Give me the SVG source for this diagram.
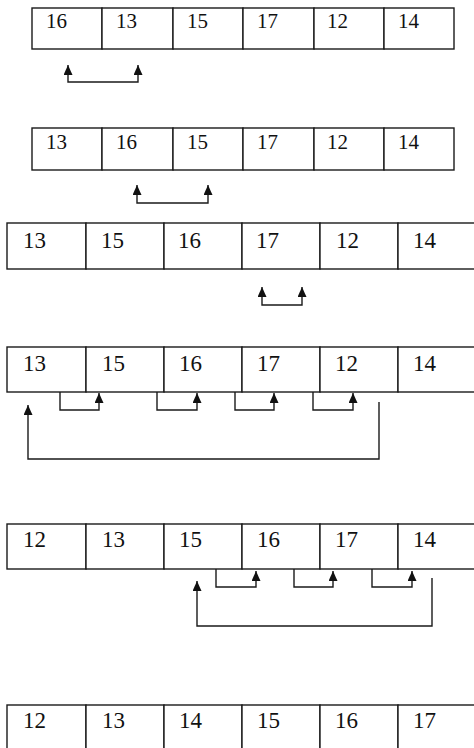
<svg xmlns="http://www.w3.org/2000/svg" width="474" height="748" viewBox="0 0 474 748">
<style>
.c{fill:#fff;stroke:#1a1a1a;stroke-width:1.4}
.t{font-family:"Liberation Serif","Times New Roman",serif;fill:#111}
.s{font-size:21px}
.b{font-size:23px}
.k{fill:none;stroke:#1a1a1a;stroke-width:1.4}
.a{marker-end:url(#ah)}
.d{marker-start:url(#ah);marker-end:url(#ah)}
</style>
<defs>
<marker id="ah" markerUnits="userSpaceOnUse" markerWidth="11" markerHeight="9" refX="10" refY="4.5" orient="auto-start-reverse">
<path d="M0,0 L10,4.5 L0,9 z" fill="#111"/>
</marker>
</defs>
<rect width="474" height="748" fill="#fff"/>
<g id="row1">
<g id="r1c1"><rect class="c" x="32" y="8" width="70" height="41"/><text class="t s" x="46" y="28">16</text></g>
<g id="r1c2"><rect class="c" x="102" y="8" width="71" height="41"/><text class="t s" x="116" y="28">13</text></g>
<g id="r1c3"><rect class="c" x="173" y="8" width="70" height="41"/><text class="t s" x="187" y="28">15</text></g>
<g id="r1c4"><rect class="c" x="243" y="8" width="71" height="41"/><text class="t s" x="257" y="28">17</text></g>
<g id="r1c5"><rect class="c" x="314" y="8" width="70" height="41"/><text class="t s" x="327" y="28">12</text></g>
<g id="r1c6"><rect class="c" x="384" y="8" width="70" height="41"/><text class="t s" x="398" y="28">14</text></g>
</g>
<g id="row2">
<g id="r2c1"><rect class="c" x="32" y="128" width="70" height="42"/><text class="t s" x="46" y="149">13</text></g>
<g id="r2c2"><rect class="c" x="102" y="128" width="71" height="42"/><text class="t s" x="116" y="149">16</text></g>
<g id="r2c3"><rect class="c" x="173" y="128" width="70" height="42"/><text class="t s" x="187" y="149">15</text></g>
<g id="r2c4"><rect class="c" x="243" y="128" width="71" height="42"/><text class="t s" x="257" y="149">17</text></g>
<g id="r2c5"><rect class="c" x="314" y="128" width="70" height="42"/><text class="t s" x="327" y="149">12</text></g>
<g id="r2c6"><rect class="c" x="384" y="128" width="70" height="42"/><text class="t s" x="398" y="149">14</text></g>
</g>
<g id="row3">
<g id="r3c1"><rect class="c" x="7" y="223" width="79" height="46"/><text class="t b" x="23" y="248">13</text></g>
<g id="r3c2"><rect class="c" x="86" y="223" width="78" height="46"/><text class="t b" x="101" y="248">15</text></g>
<g id="r3c3"><rect class="c" x="164" y="223" width="78" height="46"/><text class="t b" x="178" y="248">16</text></g>
<g id="r3c4"><rect class="c" x="242" y="223" width="78" height="46"/><text class="t b" x="256" y="248">17</text></g>
<g id="r3c5"><rect class="c" x="320" y="223" width="78" height="46"/><text class="t b" x="336" y="248">12</text></g>
<g id="r3c6"><rect class="c" x="398" y="223" width="80" height="46"/><text class="t b" x="413" y="248">14</text></g>
</g>
<g id="row4">
<g id="r4c1"><rect class="c" x="7" y="347" width="79" height="45"/><text class="t b" x="23" y="371">13</text></g>
<g id="r4c2"><rect class="c" x="86" y="347" width="78" height="45"/><text class="t b" x="102" y="371">15</text></g>
<g id="r4c3"><rect class="c" x="164" y="347" width="78" height="45"/><text class="t b" x="179" y="371">16</text></g>
<g id="r4c4"><rect class="c" x="242" y="347" width="78" height="45"/><text class="t b" x="257" y="371">17</text></g>
<g id="r4c5"><rect class="c" x="320" y="347" width="78" height="45"/><text class="t b" x="335" y="371">12</text></g>
<g id="r4c6"><rect class="c" x="398" y="347" width="80" height="45"/><text class="t b" x="413" y="371">14</text></g>
</g>
<g id="row5">
<g id="r5c1"><rect class="c" x="7" y="524" width="79" height="45"/><text class="t b" x="23" y="547">12</text></g>
<g id="r5c2"><rect class="c" x="86" y="524" width="78" height="45"/><text class="t b" x="102" y="547">13</text></g>
<g id="r5c3"><rect class="c" x="164" y="524" width="78" height="45"/><text class="t b" x="179" y="547">15</text></g>
<g id="r5c4"><rect class="c" x="242" y="524" width="78" height="45"/><text class="t b" x="257" y="547">16</text></g>
<g id="r5c5"><rect class="c" x="320" y="524" width="78" height="45"/><text class="t b" x="335" y="547">17</text></g>
<g id="r5c6"><rect class="c" x="398" y="524" width="80" height="45"/><text class="t b" x="413" y="547">14</text></g>
</g>
<g id="row6">
<g id="r6c1"><rect class="c" x="7" y="705" width="79" height="50"/><text class="t b" x="23" y="728">12</text></g>
<g id="r6c2"><rect class="c" x="86" y="705" width="78" height="50"/><text class="t b" x="102" y="728">13</text></g>
<g id="r6c3"><rect class="c" x="164" y="705" width="78" height="50"/><text class="t b" x="179" y="728">14</text></g>
<g id="r6c4"><rect class="c" x="242" y="705" width="78" height="50"/><text class="t b" x="257" y="728">15</text></g>
<g id="r6c5"><rect class="c" x="320" y="705" width="78" height="50"/><text class="t b" x="335" y="728">16</text></g>
<g id="r6c6"><rect class="c" x="398" y="705" width="80" height="50"/><text class="t b" x="413" y="728">17</text></g>
</g>
<g id="connectors">
<path class="k d" d="M68,65 V82 H138 V65"/>
<path class="k d" d="M137,185 V203 H208 V185"/>
<path class="k d" d="M262,287 V305 H302 V287"/>
<path class="k a" d="M60,392 V410 H99 V393"/>
<path class="k a" d="M157,392 V410 H197 V393"/>
<path class="k a" d="M235,392 V410 H274 V393"/>
<path class="k a" d="M313,392 V410 H353 V393"/>
<path class="k a" d="M379,402 V459 H28 V405"/>
<path class="k a" d="M216,569 V587 H256 V571"/>
<path class="k a" d="M294,569 V587 H333 V571"/>
<path class="k a" d="M372,569 V587 H412 V571"/>
<path class="k a" d="M432,578 V626 H197 V581"/>
</g>
</svg>
